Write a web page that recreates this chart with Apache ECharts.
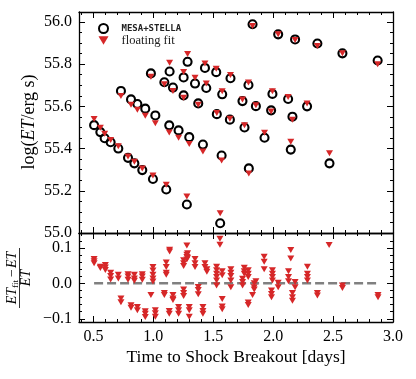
<!DOCTYPE html>
<html>
<head>
<meta charset="utf-8">
<script src="https://cdn.jsdelivr.net/npm/echarts@6/dist/echarts.min.js"></script>
<style>html,body{margin:0;padding:0;background:#fff}#chart{width:416px;height:379px}</style>
</head>
<body>
<div id="chart"></div>
<script>
// epochs of the model light curves, days after shock breakout
const epochDays = [
  0.506, 0.558, 0.594, 0.644, 0.708, 0.789, 0.842, 0.908, 0.997, 1.108, 1.280, 1.558,
  0.730, 0.814, 0.867, 0.933, 1.017, 1.133, 1.211, 1.300, 1.414, 1.570, 1.797, 2.147, 2.470,
  0.980, 1.092, 1.164, 1.253, 1.375, 1.530, 1.639, 1.761, 1.928,
  1.136, 1.253, 1.348, 1.442, 1.575, 1.744, 1.856, 1.983, 2.161,
  1.286, 1.431, 1.525, 1.644, 1.794, 1.994, 2.125, 2.283,
  1.828, 2.042, 2.183, 2.369, 2.578, 2.872
];
// log(ET) from MESA+STELLA
const mesaLogET = [
  55.511, 55.478, 55.449, 55.430, 55.400, 55.356, 55.330, 55.298, 55.256, 55.206, 55.135, 55.046,
  55.673, 55.633, 55.611, 55.589, 55.557, 55.510, 55.486, 55.454, 55.419, 55.367, 55.306, 55.395, 55.330,
  55.756, 55.714, 55.689, 55.652, 55.614, 55.563, 55.537, 55.500, 55.451,
  55.765, 55.737, 55.708, 55.687, 55.657, 55.625, 55.601, 55.581, 55.551,
  55.811, 55.782, 55.762, 55.733, 55.701, 55.659, 55.635, 55.600,
  55.989, 55.941, 55.917, 55.898, 55.851, 55.817
];
// log(ET) from the floating fit
const fitLogET = [
  55.540, 55.499, 55.470, 55.441, 55.411, 55.363, 55.337, 55.306, 55.273, 55.229, 55.173, 55.094,
  55.649, 55.608, 55.584, 55.556, 55.520, 55.476, 55.451, 55.422, 55.386, 55.343, 55.282, 55.432, 55.378,
  55.740, 55.705, 55.673, 55.641, 55.608, 55.568, 55.541, 55.510, 55.475,
  55.806, 55.763, 55.735, 55.708, 55.671, 55.632, 55.605, 55.576, 55.537,
  55.848, 55.803, 55.778, 55.749, 55.713, 55.671, 55.644, 55.613,
  55.981, 55.941, 55.914, 55.886, 55.851, 55.800
];

// relative residuals (ET_fit - ET)/ET, grouped by epoch
const residDays = [
  0.506, 0.558, 0.600, 0.644, 0.708, 0.730, 0.789, 0.814, 0.842, 0.867, 0.908, 0.933,
  0.980, 0.997, 1.017, 1.092, 1.108, 1.133, 1.136, 1.164, 1.211, 1.253, 1.280, 1.286,
  1.300, 1.348, 1.375, 1.414, 1.431, 1.447, 1.528, 1.556, 1.575, 1.647, 1.745, 1.759,
  1.792, 1.828, 1.842, 1.856, 1.925, 1.986, 1.994, 2.042, 2.128, 2.147, 2.161, 2.183,
  2.286, 2.369, 2.467, 2.578, 2.875
];
const residFrac = [
  [0.069, 0.062, 0.057], [0.047, 0.043], [0.052, 0.045, 0.038], [0.030, 0.021, 0.011],
  [0.024, 0.014], [-0.043, -0.053], [0.026, 0.019, 0.010], [-0.062, -0.069],
  [0.024, 0.014, 0.007], [-0.067, -0.076], [0.026, 0.019, 0.010], [-0.079, -0.086, -0.095],
  [-0.033], [0.046, 0.036, 0.024, 0.014, 0.005], [-0.076, -0.084, -0.094], [-0.027, -0.033],
  [0.059, 0.046, 0.030, 0.024], [-0.078, -0.086], [0.095, 0.090], [-0.033, -0.043, -0.047],
  [-0.067, -0.076, -0.086], [-0.017, -0.027, -0.036, 0.065, 0.057, 0.049],
  [0.107, 0.081, 0.074, 0.067], [0.085, 0.072],
  [-0.067, -0.076, -0.094], [0.069, 0.057, 0.046], [-0.010, -0.019, -0.031], [-0.067, -0.078, -0.086],
  [0.057, 0.046], [0.040, 0.033], [0.047, 0.037, 0.027, 0.018, 0.008, -0.006], [0.126, 0.109],
  [0.034, 0.023, -0.044, -0.065, -0.073], [0.040, 0.030, 0.021, 0.008, -0.011],
  [0.013, 0.004, -0.006], [0.044, 0.034, 0.027],
  [0.037, 0.027, 0.018, -0.054, -0.061], [-0.033], [0.000, -0.011, -0.017], [0.006],
  [0.075, 0.061, 0.040], [-0.020, -0.030, -0.039], [0.037, 0.027, 0.018, 0.008], [0.002, -0.011],
  [0.034, 0.018, 0.006], [0.094, 0.070], [-0.027, -0.039, -0.049], [0.004, -0.011],
  [0.047, 0.027, 0.018, 0.008], [-0.027, -0.034], [0.108], [-0.006, -0.013], [-0.033, -0.039]
];

const xMajor = [0.5, 1.0, 1.5, 2.0, 2.5, 3.0];
const topYMajor = [55.0, 55.2, 55.4, 55.6, 55.8, 56.0];
const botYMajor = [-0.1, 0.0, 0.1];

const SERIF = 'Liberation Serif';
const RED = '#d62728';
const X_MIN = 0.38, X_MAX = 3.0;
const TOP_MIN = 55.0, TOP_MAX = 56.047;
const BOT_MIN = -0.109, BOT_MAX = 0.142;

function minorTicks(lo, hi, step, majors) {
  const out = [];
  for (let k = Math.ceil(lo / step - 1e-9); k * step <= hi + 1e-9; k++) {
    const v = +(k * step).toFixed(4);
    if (!majors.some(m => Math.abs(m - v) < 1e-6)) out.push(v);
  }
  return out;
}

const xMinor = minorTicks(X_MIN, X_MAX, 0.1, xMajor);
const topYMinor = minorTicks(TOP_MIN, TOP_MAX, 0.05, topYMajor);
const botYMinor = minorTicks(BOT_MIN, BOT_MAX, 0.02, botYMajor);

function fmt1(v) {
  return (v < 0 ? '\u2212' : '') + Math.abs(v).toFixed(1);
}

function axis(grid, pos, ticks, len, min, max, line, labels) {
  return {
    type: 'value', gridIndex: grid, position: pos, min: min, max: max,
    axisLine: { show: line, onZero: false, lineStyle: { color: '#000', width: 1.3 } },
    axisTick: { show: true, inside: true, length: len, customValues: ticks,
      lineStyle: { color: '#000', width: 1 } },
    axisLabel: { show: labels, customValues: ticks, margin: 7, color: '#000',
      fontFamily: SERIF, fontSize: 16, formatter: fmt1 },
    splitLine: { show: false }
  };
}

const xAxes = [
  axis(0, 'bottom', xMajor, 6, X_MIN, X_MAX, true, false),
  axis(0, 'bottom', xMinor, 3, X_MIN, X_MAX, false, false),
  axis(0, 'top', xMajor, 6, X_MIN, X_MAX, true, false),
  axis(0, 'top', xMinor, 3, X_MIN, X_MAX, false, false),
  axis(1, 'bottom', xMajor, 6, X_MIN, X_MAX, true, true),
  axis(1, 'bottom', xMinor, 3, X_MIN, X_MAX, false, false),
  axis(1, 'top', xMajor, 6, X_MIN, X_MAX, true, false),
  axis(1, 'top', xMinor, 3, X_MIN, X_MAX, false, false)
];
const yAxes = [
  axis(0, 'left', topYMajor, 6, TOP_MIN, TOP_MAX, true, true),
  axis(0, 'left', topYMinor, 3, TOP_MIN, TOP_MAX, false, false),
  axis(0, 'right', topYMajor, 6, TOP_MIN, TOP_MAX, true, false),
  axis(0, 'right', topYMinor, 3, TOP_MIN, TOP_MAX, false, false),
  axis(1, 'left', botYMajor, 6, BOT_MIN, BOT_MAX, true, true),
  axis(1, 'left', botYMinor, 3, BOT_MIN, BOT_MAX, false, false),
  axis(1, 'right', botYMajor, 6, BOT_MIN, BOT_MAX, true, false),
  axis(1, 'right', botYMinor, 3, BOT_MIN, BOT_MAX, false, false)
];

const mesaPoints = epochDays.map((d, i) => [d, mesaLogET[i]]);
const fitPoints = epochDays.map((d, i) => [d, fitLogET[i]]);
const residPoints = [];
residDays.forEach((d, i) => residFrac[i].forEach(r => residPoints.push([d, r])));
const zeroLine = [[Math.min(...residDays), 0], [Math.max(...residDays), 0]];

const chart = echarts.init(document.getElementById('chart'), null, { renderer: 'canvas' });

chart.setOption({
  animation: false,
  backgroundColor: '#fff',
  grid: [
    { left: 79, right: 23, top: 12, height: 221 },
    { left: 79, right: 23, top: 233, height: 89 }
  ],
  xAxis: xAxes,
  yAxis: yAxes,
  legend: {
    data: [
      { name: 'MESA+STELLA' },
      { name: 'floating fit', icon: 'path://M0,0L10,0L5,8.5Z', itemStyle: { color: RED } }
    ],
    orient: 'vertical', left: 93, top: 18, itemGap: 0,
    itemWidth: 10, itemHeight: 9,
    formatter: name => name === 'MESA+STELLA' ? '{m|' + name + '}' : '{f|' + name + '}',
    textStyle: {
      rich: {
        m: { fontFamily: 'DejaVu Sans Mono', fontWeight: 'bold', fontSize: 9, color: '#222',
             lineHeight: 14, padding: [0, 0, 0, 8] },
        f: { fontFamily: SERIF, fontSize: 12.5, color: '#222', lineHeight: 14, padding: [0, 0, 0, 8] }
      }
    }
  },
  graphic: [
    {
      type: 'text', x: 29, y: 122, rotation: Math.PI / 2,
      style: {
        text: '{n|log(}{i|ET}{n|/erg s)}', align: 'center', verticalAlign: 'middle',
        rich: {
          n: { fontFamily: SERIF, fontSize: 18, fill: '#000' },
          i: { fontFamily: SERIF, fontSize: 18, fontStyle: 'italic', fill: '#000' }
        }
      }
    },
    {
      type: 'group', x: 19.5, y: 278, rotation: Math.PI / 2,
      children: [
        {
          type: 'text', x: 0, y: -7,
          style: {
            text: '{i|ET}{s|fit}{n|\u2212}{i|ET}', align: 'center', verticalAlign: 'middle',
            rich: {
              i: { fontFamily: SERIF, fontSize: 14, fontStyle: 'italic', fill: '#000', lineHeight: 16 },
              s: { fontFamily: SERIF, fontSize: 9, fill: '#000', lineHeight: 9, verticalAlign: 'bottom', padding: [0, 2, 0, 0] },
              n: { fontFamily: SERIF, fontSize: 14, fill: '#000', lineHeight: 16, padding: [0, 1, 0, 1] }
            }
          }
        },
        { type: 'line', shape: { x1: -30, y1: 0, x2: 30, y2: 0 }, style: { stroke: '#000', lineWidth: 0.8 } },
        {
          type: 'text', x: 0, y: 7,
          style: { text: 'ET', align: 'center', verticalAlign: 'middle',
            font: 'italic 14px "Liberation Serif"', fill: '#000' }
        }
      ]
    },
    {
      type: 'text', x: 236, y: 357.5,
      style: { text: 'Time to Shock Breakout [days]', align: 'center', verticalAlign: 'middle',
        font: '17.5px "Liberation Serif"', fill: '#000' }
    }
  ],
  series: [
    {
      name: 'MESA+STELLA', type: 'scatter', xAxisIndex: 0, yAxisIndex: 0,
      data: mesaPoints, symbol: 'circle', symbolSize: 8, z: 3,
      itemStyle: { color: 'rgba(0,0,0,0)', borderColor: '#000', borderWidth: 2.1, opacity: 1 }
    },
    {
      name: 'floating fit', type: 'scatter', xAxisIndex: 0, yAxisIndex: 0,
      data: fitPoints, symbol: 'triangle', symbolRotate: 180, symbolSize: [7, 6], z: 4,
      itemStyle: { color: RED, opacity: 1 }
    },
    {
      type: 'line', xAxisIndex: 4, yAxisIndex: 4, data: zeroLine, showSymbol: false,
      silent: true, z: 2,
      lineStyle: { color: '#808080', width: 2.5, type: [9, 4] }
    },
    {
      name: 'floating fit', type: 'scatter', xAxisIndex: 4, yAxisIndex: 4,
      data: residPoints, symbol: 'triangle', symbolRotate: 180, symbolSize: [7, 6], z: 4,
      itemStyle: { color: RED, opacity: 1 }
    }
  ]
});
</script>
</body>
</html>
